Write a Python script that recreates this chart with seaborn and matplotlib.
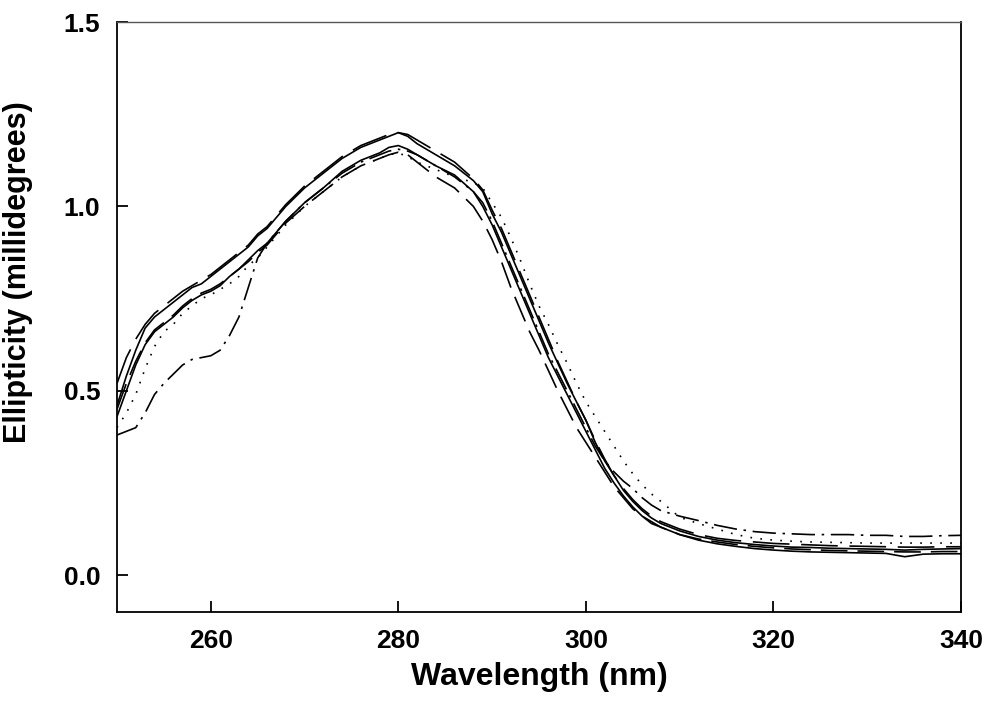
import matplotlib
matplotlib.use("Agg")
import matplotlib.pyplot as plt
import seaborn as sns
import pandas as pd

wavelength = [250, 251, 252, 253, 254, 255, 256, 257, 258, 259, 260, 261, 262, 263, 264, 265, 266,
              268, 270, 272, 274, 276, 278, 279, 280, 281, 282, 284, 286, 288,
              289, 290, 291, 292, 293, 294, 295, 296, 297, 298, 299, 300, 301, 302, 303, 304, 305, 306, 307, 308,
              310, 312, 314, 316, 318, 320, 322, 324, 326, 328, 330, 332, 334, 336, 338, 340]

solid_a = [0.46, 0.54, 0.61, 0.67, 0.70, 0.72, 0.74, 0.76, 0.78, 0.79, 0.81, 0.83, 0.85, 0.87, 0.89, 0.92, 0.94,
           1.00, 1.05, 1.09, 1.13, 1.16, 1.18, 1.19, 1.20, 1.19, 1.17, 1.14, 1.11, 1.07,
           1.04, 0.98, 0.93, 0.87, 0.81, 0.75, 0.69, 0.63, 0.575, 0.52, 0.47, 0.42, 0.36, 0.31, 0.27, 0.23, 0.20, 0.175, 0.155, 0.14,
           0.12, 0.105, 0.095, 0.088, 0.083, 0.079, 0.076, 0.075, 0.073, 0.072, 0.071, 0.070, 0.068, 0.070, 0.071, 0.072]

dash_a = [0.52, 0.59, 0.64, 0.68, 0.71, 0.73, 0.75, 0.77, 0.785, 0.80, 0.815, 0.835, 0.855, 0.875, 0.895, 0.925, 0.945,
          1.005, 1.055, 1.095, 1.135, 1.165, 1.185, 1.195, 1.20, 1.195, 1.18, 1.15, 1.12, 1.075,
          1.045, 0.99, 0.94, 0.88, 0.82, 0.76, 0.70, 0.64, 0.58, 0.525, 0.47, 0.42, 0.365, 0.315, 0.27, 0.235, 0.205, 0.18, 0.16, 0.145,
          0.125, 0.11, 0.10, 0.094, 0.09, 0.086, 0.084, 0.082, 0.080, 0.079, 0.078, 0.077, 0.076, 0.076, 0.077, 0.077]

solid_b = [0.43, 0.50, 0.57, 0.625, 0.66, 0.68, 0.70, 0.725, 0.745, 0.76, 0.77, 0.785, 0.81, 0.83, 0.855, 0.88, 0.90,
           0.96, 1.01, 1.05, 1.095, 1.125, 1.145, 1.16, 1.165, 1.155, 1.14, 1.11, 1.085, 1.04,
           1.00, 0.95, 0.89, 0.83, 0.77, 0.71, 0.65, 0.59, 0.54, 0.49, 0.44, 0.39, 0.34, 0.29, 0.25, 0.215, 0.185, 0.16, 0.145, 0.13,
           0.11, 0.095, 0.085, 0.078, 0.072, 0.068, 0.065, 0.063, 0.062, 0.061, 0.060, 0.059, 0.050, 0.057, 0.058, 0.058]

dash_b = [0.45, 0.52, 0.58, 0.63, 0.665, 0.685, 0.705, 0.73, 0.75, 0.765, 0.775, 0.79, 0.81, 0.83, 0.85, 0.875, 0.895,
          0.955, 1.00, 1.04, 1.08, 1.11, 1.13, 1.14, 1.147, 1.14, 1.12, 1.08, 1.05, 1.00,
          0.96, 0.91, 0.85, 0.78, 0.72, 0.66, 0.61, 0.555, 0.50, 0.45, 0.40, 0.36, 0.32, 0.28, 0.24, 0.21, 0.18, 0.16, 0.14, 0.13,
          0.11, 0.098, 0.09, 0.083, 0.078, 0.074, 0.071, 0.069, 0.067, 0.066, 0.065, 0.064, 0.063, 0.063, 0.064, 0.064]

dashdot_c = [0.38, 0.39, 0.40, 0.44, 0.49, 0.52, 0.545, 0.57, 0.585, 0.59, 0.595, 0.61, 0.65, 0.70, 0.78, 0.86, 0.90,
             0.96, 1.01, 1.05, 1.09, 1.12, 1.14, 1.15, 1.155, 1.15, 1.14, 1.11, 1.08, 1.04,
             1.01, 0.96, 0.90, 0.84, 0.78, 0.72, 0.66, 0.60, 0.55, 0.50, 0.45, 0.40, 0.35, 0.31, 0.28, 0.255, 0.235, 0.21, 0.19, 0.175,
             0.16, 0.148, 0.135, 0.125, 0.118, 0.114, 0.112, 0.110, 0.110, 0.110, 0.108, 0.108, 0.105, 0.105, 0.107, 0.108]

dotted_d = [0.40, 0.44, 0.49, 0.56, 0.62, 0.66, 0.68, 0.71, 0.73, 0.75, 0.76, 0.775, 0.79, 0.81, 0.84, 0.86, 0.89,
            0.95, 1.00, 1.04, 1.08, 1.11, 1.13, 1.14, 1.145, 1.135, 1.12, 1.10, 1.08, 1.065,
            1.05, 1.01, 0.97, 0.915, 0.855, 0.79, 0.73, 0.68, 0.625, 0.575, 0.52, 0.47, 0.43, 0.39, 0.35, 0.31, 0.275, 0.245, 0.22, 0.20,
            0.157, 0.14, 0.125, 0.11, 0.10, 0.095, 0.092, 0.090, 0.089, 0.088, 0.087, 0.087, 0.087, 0.087, 0.087, 0.087]

x_ticks = [260, 280, 300, 320, 340]
y_ticks = [0.0, 0.5, 1.0, 1.5]
x_label = "Wavelength (nm)"
y_label = "Ellipticity (millidegrees)"

sns.set_theme(style="white")
plt.rcParams['font.family'] = ['Liberation Sans', 'DejaVu Sans']
plt.rcParams['text.color'] = 'black'
plt.rcParams['axes.labelcolor'] = 'black'

fig = plt.figure(figsize=(9.89, 7.17), dpi=100)
ax = fig.add_axes([0.1183, 0.1464, 0.8534, 0.8229])

series = [
    (solid_a, dict(linestyle='-')),
    (dash_a, dict(linestyle=(0, (22, 7)))),
    (solid_b, dict(linestyle='-')),
    (dash_b, dict(linestyle=(0, (16, 6)))),
    (dashdot_c, dict(linestyle=(0, (14, 4, 1.5, 4)))),
    (dotted_d, dict(linestyle=(0, (1, 5)))),
]
for vals, st in series:
    df = pd.DataFrame({"wl": wavelength, "val": vals})
    sns.lineplot(data=df, x="wl", y="val", ax=ax, color="black", linewidth=1.2, **st)

ax.set_xlim(250, 340)
ax.set_ylim(-0.1, 1.5)
ax.set_xticks(x_ticks)
ax.set_yticks(y_ticks)
ax.set_yticklabels([f"{v:.1f}" for v in y_ticks])
ax.tick_params(direction='in', length=8, width=1.3, colors='black', labelsize=19,
               bottom=True, left=True, top=False, right=False, pad=12)
for lab in ax.get_xticklabels() + ax.get_yticklabels():
    lab.set_fontweight('bold')
ax.set_xlabel(x_label, fontsize=23, fontweight='bold', color='black')
ax.set_ylabel(y_label, fontsize=22, fontweight='bold', color='black')
ax.xaxis.set_label_coords(0.5, -0.084)
ax.yaxis.set_label_coords(-0.100, 0.576)
for s in ['left', 'bottom', 'right']:
    ax.spines[s].set_color('black')
    ax.spines[s].set_linewidth(1.3)
ax.spines['top'].set_color('#555555')
ax.spines['top'].set_linewidth(1.0)

fig.savefig("out.png", dpi=100)
